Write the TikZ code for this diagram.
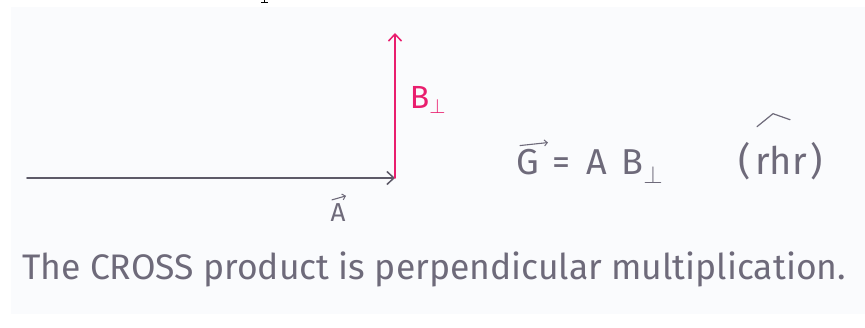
\documentclass[tikz,border=0pt]{standalone}
\usepackage{fontspec}
\setmainfont{Fira Sans}
\usetikzlibrary{arrows.meta,positioning,calc}
\definecolor{pencil}{HTML}{6E6A7A}
\definecolor{penmag}{HTML}{E91E6E}
\definecolor{paper}{HTML}{FAFBFD}

\begin{document}
\begin{tikzpicture}[x=1pt, y=-1pt,
  every node/.style={inner sep=0pt},
  vecline/.style={line width=1.7pt, line cap=round,
    -{Straight Barb[length=7pt,width=13pt,line width=1.5pt]}},
  accent/.style={draw=pencil, line width=1.1pt, line cap=round,
    -{Straight Barb[length=3pt,width=6pt,line width=1pt]}},
  hand/.style={text=pencil, font=\fontsize{36}{42}\selectfont},
  >=Stealth
]
\useasboundingbox (0,0) rectangle (865,328);
\fill[white] (0,0) rectangle (865,328);
\fill[paper] (11,7) rectangle (865,314);
% cut-off mark at the top edge
\draw[black, line width=0.9pt] (261,2.5) -- (268,2.5) (264.5,0) -- (264.5,2.5);

\coordinate (tail) at (27,178);
\coordinate (origin) at (395,178);
\coordinate (tip) at (395,33);

\draw[vecline, draw=pencil!85!black] (tail) -- (origin);
\draw[vecline, draw=penmag] (origin) -- (tip);

\node[text=penmag, font=\fontsize{32}{38}\selectfont] (blabel) at (428,100) {B\textsubscript{$\perp$}};
\node[hand, font=\fontsize{26}{30}\selectfont, anchor=base] (alabel) at (338,222) {A};
\draw[accent] ($(alabel.north)+(-6,-4)$) -- ($(alabel.north)+(8,-8)$);

\node[hand, anchor=base west] (eqn) at (516,175)
  {G\hspace{14pt}=\hspace{16pt}A\hspace{14pt}B\textsubscript{$\perp$}};
\draw[accent] ($(eqn.north west)+(4,-4)$) -- ($(eqn.north west)+(32,-7)$);

\node[hand, anchor=base, font=\fontsize{38}{44}\selectfont] (rhr) at (781,175) {(\hspace{4pt}rhr\hspace{4pt})};
\draw[pencil, line width=1.2pt, line cap=round, line join=round]
  ($(rhr.north)+(-24,-16)$) -- ($(rhr.north)+(-8,-29)$) -- ($(rhr.north)+(9,-23)$);

\node[hand, anchor=base west, font=\fontsize{35.5}{42}\selectfont] (caption) at (22,280)
  {The CROSS product is perpendicular multiplication.};
\end{tikzpicture}
\end{document}
